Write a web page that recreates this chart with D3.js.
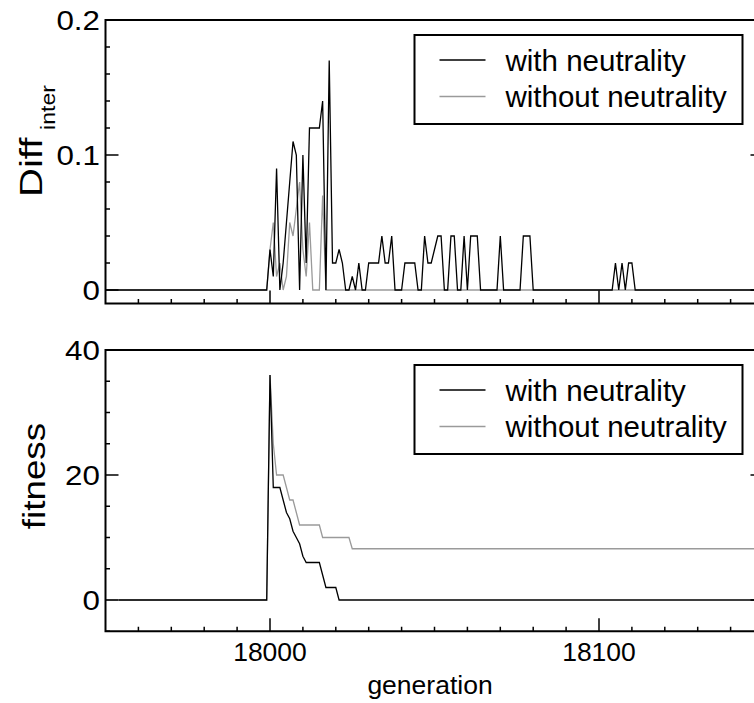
<!DOCTYPE html>
<html>
<head>
<meta charset="utf-8">
<script src="https://cdn.jsdelivr.net/npm/d3@7"></script>
<style>
  body { margin: 0; background: #fff; }
  svg text { font-family: "Liberation Sans", Arial, Helvetica, sans-serif; fill: #000; }
</style>
</head>
<body>
<svg id="chart" width="754" height="703"></svg>
<script>
// <--Data--> //
// top panel: Diff_inter, with neutrality (black)
var diffWithGen = [17950, 17999,
  18000, 18001, 18002, 18003, 18004, 18005, 18006, 18007, 18008, 18009,
  18010, 18011, 18012, 18013, 18014, 18015, 18016, 18017, 18018, 18019,
  18020, 18021, 18022, 18023, 18024, 18025, 18026, 18027, 18028, 18029,
  18030, 18031, 18032, 18033, 18034, 18035, 18036, 18037, 18038, 18039,
  18040, 18041, 18042, 18043, 18044, 18045, 18046, 18047, 18048, 18049,
  18050, 18051, 18052, 18053, 18054, 18055, 18056, 18057, 18058, 18059,
  18060, 18061, 18062, 18063, 18064,
  18069, 18070, 18071, 18076, 18077, 18078, 18079, 18080,
  18104, 18105, 18106, 18107, 18108, 18109, 18110, 18111, 18150];
var diffWithVal = [0, 0,
  0.03, 0.01, 0.09, 0, 0.02, 0.05, 0.08, 0.11, 0.10, 0,
  0.10, 0.02, 0.12, 0.12, 0.12, 0.12, 0.14, 0, 0.17, 0.02,
  0.02, 0.03, 0.02, 0, 0, 0.01, 0, 0.02, 0, 0,
  0.02, 0.02, 0.02, 0.02, 0.04, 0.02, 0.02, 0.04, 0, 0,
  0, 0.02, 0.02, 0.02, 0.02, 0, 0, 0.04, 0.02, 0.02,
  0.03, 0.04, 0.04, 0, 0, 0.04, 0.04, 0, 0, 0.04,
  0, 0.04, 0.04, 0.04, 0,
  0, 0.04, 0, 0, 0.04, 0.04, 0.04, 0,
  0, 0.02, 0, 0.02, 0, 0.02, 0.02, 0, 0];

// top panel: without neutrality (gray)
var diffWithoutGen = [17950, 17999,
  18000, 18001, 18002, 18003, 18004, 18005, 18006, 18007, 18008, 18009,
  18010, 18011, 18012, 18013, 18014, 18015, 18016, 18017, 18150];
var diffWithoutVal = [0, 0,
  0.03, 0.05, 0.01, 0.02, 0, 0.01, 0.05, 0.04, 0.06, 0.08,
  0.03, 0.01, 0.05, 0, 0, 0, 0.07, 0, 0];

// bottom panel: fitness
var fitWithGen = [17954, 17999,
  18000, 18001, 18002, 18003, 18004, 18005, 18006, 18007, 18008, 18009,
  18010, 18011, 18012, 18013, 18014, 18015, 18016, 18017, 18018, 18019,
  18020, 18021, 18150];
var fitWithVal = [0, 0,
  36, 18, 18, 18, 16, 14, 13, 11, 10, 9,
  7, 6, 6, 6, 6, 6, 4, 2, 2, 2,
  2, 0, 0];

var fitWithoutGen = [17950, 17999,
  18000, 18001, 18002, 18003, 18004, 18005, 18006, 18007, 18008, 18009,
  18010, 18011, 18012, 18013, 18014, 18015, 18016, 18017, 18018, 18019,
  18020, 18021, 18022, 18023, 18024, 18025, 18150];
var fitWithoutVal = [0, 0,
  36, 25, 20, 20, 20, 18, 16, 16, 14, 12,
  12, 12, 12, 12, 12, 12, 10, 10, 10, 10,
  10, 10, 10, 10, 10, 8.2, 8.2];

var seriesNames = ["with neutrality", "without neutrality"];
var seriesColors = ["#000", "#9a9a9a"];
var xMajorTicks = [18000, 18100];
var xMinorTicks = [17960, 17970, 17980, 17990, 18010, 18020, 18030, 18040, 18050,
  18060, 18070, 18080, 18090, 18110, 18120, 18130, 18140];
var diffTicks = [0, 0.1, 0.2];
var diffMinor = [0.02, 0.04, 0.06, 0.08, 0.12, 0.14, 0.16, 0.18];
var fitTicks = [0, 20, 40];
var fitMinor = [-5, 5, 10, 15, 25, 30, 35];

// <--Layout--> //
var svg = d3.select("#chart");
var left = 105.5, right = 763.5;

var x = d3.scaleLinear().domain([17950, 18150]).range([left, right]);
var yTop = d3.scaleLinear().domain([-0.01, 0.2]).range([303.5, 20]);
var yBot = d3.scaleLinear().domain([-5, 40]).range([631.25, 350]);

function zip(g, v) { return g.map(function(d, i) { return [d, v[i]]; }); }

function panel(y, yMinor, yMajor, yFmt, series, showXLabels) {
  var g = svg.append("g");
  var x0 = x.range()[0], x1 = x.range()[1];
  var y0 = y.range()[0], y1 = y.range()[1];

  var line = d3.line().x(function(d) { return x(d[0]); }).y(function(d) { return y(d[1]); });

  // data lines: gray under black
  series.slice().reverse().forEach(function(s) {
    g.append("path")
      .datum(s.data)
      .attr("fill", "none")
      .attr("stroke", s.color)
      .attr("stroke-width", 1.3)
      .attr("d", line);
  });

  // ticks, drawn inward
  g.selectAll(null).data(xMinorTicks).enter().append("line")
    .attr("x1", function(d) { return x(d); }).attr("x2", function(d) { return x(d); })
    .attr("y1", y0).attr("y2", y0 - 4.5)
    .attr("stroke", "#000").attr("stroke-width", 1.5);
  g.selectAll(null).data(xMajorTicks).enter().append("line")
    .attr("x1", function(d) { return x(d); }).attr("x2", function(d) { return x(d); })
    .attr("y1", y0).attr("y2", y0 - 13)
    .attr("stroke", "#000").attr("stroke-width", 1.5);

  [x0, x1].forEach(function(xe, side) {
    var dir = side === 0 ? 1 : -1;
    g.selectAll(null).data(yMinor).enter().append("line")
      .attr("x1", xe).attr("x2", xe + dir * 4.5)
      .attr("y1", function(d) { return y(d); }).attr("y2", function(d) { return y(d); })
      .attr("stroke", "#000").attr("stroke-width", 1.5);
    g.selectAll(null).data(yMajor).enter().append("line")
      .attr("x1", xe).attr("x2", xe + dir * 13)
      .attr("y1", function(d) { return y(d); }).attr("y2", function(d) { return y(d); })
      .attr("stroke", "#000").attr("stroke-width", 1.5);
  });

  // frame
  g.append("rect")
    .attr("x", x0).attr("y", y1)
    .attr("width", x1 - x0).attr("height", y0 - y1)
    .attr("fill", "none").attr("stroke", "#000").attr("stroke-width", 2);

  // y tick labels
  g.selectAll(null).data(yMajor).enter().append("text")
    .attr("transform", function(d) { return "translate(100," + y(d) + ") scale(1.12,1)"; })
    .attr("dy", "0.36em")
    .attr("text-anchor", "end")
    .style("font-size", "28px")
    .text(yFmt);

  if (showXLabels) {
    g.selectAll(null).data(xMajorTicks).enter().append("text")
      .attr("x", function(d) { return x(d); }).attr("y", 661)
      .attr("text-anchor", "middle")
      .style("font-size", "26.5px")
      .text(function(d) { return d; });
  }

  // legend
  var lx = 414.5, ly = y1 + 15;
  g.append("rect")
    .attr("x", lx).attr("y", ly).attr("width", 328).attr("height", 89)
    .attr("fill", "#fff").attr("stroke", "#000").attr("stroke-width", 2);
  series.forEach(function(s, i) {
    var ry = ly + 25 + i * 36.5;
    g.append("line")
      .attr("x1", lx + 25).attr("x2", lx + 71)
      .attr("y1", ry).attr("y2", ry)
      .attr("stroke", s.color).attr("stroke-width", 1.3);
    g.append("text")
      .attr("x", lx + 91).attr("y", ry).attr("dy", "0.36em")
      .style("font-size", "29.5px")
      .text(s.name);
  });
  return g;
}

// top panel
panel(yTop, diffMinor, diffTicks,
  function(d) { return d === 0 ? "0" : d3.format(".1f")(d); },
  [{ name: seriesNames[0], color: seriesColors[0], data: zip(diffWithGen, diffWithVal) },
   { name: seriesNames[1], color: seriesColors[1], data: zip(diffWithoutGen, diffWithoutVal) }],
  false);

// bottom panel
panel(yBot, fitMinor, fitTicks,
  function(d) { return d; },
  [{ name: seriesNames[0], color: seriesColors[0], data: zip(fitWithGen, fitWithVal) },
   { name: seriesNames[1], color: seriesColors[1], data: zip(fitWithoutGen, fitWithoutVal) }],
  true);

// axis titles (stretched along the text direction to match the source)
svg.append("text")
  .attr("transform", "translate(42,197) rotate(-90) scale(1.25,1)")
  .style("font-size", "32px")
  .text("Diff");
svg.append("text")
  .attr("transform", "translate(55,130) rotate(-90) scale(1.1,1)")
  .style("font-size", "21px")
  .text("inter");

svg.append("text")
  .attr("transform", "translate(45,476) rotate(-90) scale(1.15,1)")
  .attr("text-anchor", "middle")
  .style("font-size", "32px")
  .text("fitness");

svg.append("text")
  .attr("x", 430).attr("y", 694)
  .attr("text-anchor", "middle")
  .style("font-size", "26.5px")
  .text("generation");
</script>
</body>
</html>
